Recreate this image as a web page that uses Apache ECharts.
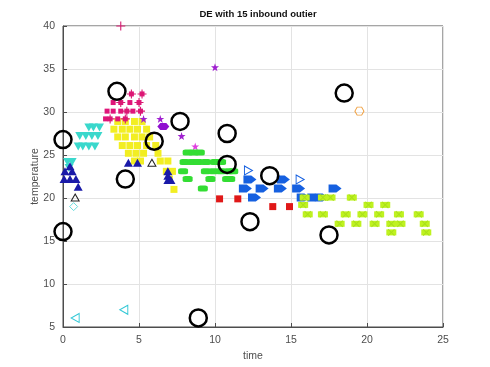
<!DOCTYPE html>
<html>
<head>
<meta charset="UTF-8">
<script src="https://cdn.jsdelivr.net/npm/echarts@6/dist/echarts.min.js"></script>
<style>html,body{margin:0;padding:0;background:#fff}#main{width:490px;height:367px}</style>
</head>
<body>
<div id="main"></div>
<script>
// tick labels
var xTicks = [0, 5, 10, 15, 20, 25];
var yTicks = [5, 10, 15, 20, 25, 30, 35, 40];

// outliers (black circles)
var outliers = [[0, 26.8], [0, 16.1], [3.55, 32.4], [4.1, 22.2], [6.0, 26.6], [7.7, 28.9], [8.9, 6.05],
  [10.8, 27.5], [10.8, 23.9], [12.3, 17.25], [13.6, 22.6], [17.5, 15.7], [18.5, 32.2]];

// magenta plus / squares
var magenta = [[4.5, 32.1], [5.2, 32.1], [3.3, 31.1], [3.8, 31.1], [4.4, 31.1], [5.0, 31.1],
  [2.9, 30.1], [3.3, 30.1], [3.8, 30.1], [4.2, 30.1], [4.6, 30.1], [5.1, 30.1],
  [2.8, 29.2], [3.1, 29.2], [3.6, 29.2], [4.1, 29.2]];
var magentaPlus = [[4.5, 32.1], [5.2, 32.1], [3.8, 31.1], [5.0, 31.1], [4.2, 30.1], [5.1, 30.1],
  [3.1, 29.2], [4.1, 29.2], [3.8, 40]];

// purple stars and blobs
var purpleStar = [[5.3, 29.2], [6.4, 29.2], [7.8, 27.2], [10.0, 35.2]];
var purpleBlob = [[6.6, 28.3]];
var pinkFlower = [[8.7, 26.0]];

// cyan down triangles
var cyanDown = [[1.7, 28.2], [2.0, 28.2], [2.4, 28.2], [1.1, 27.2], [1.5, 27.2], [1.9, 27.2], [2.3, 27.2],
  [1.0, 26.0], [1.3, 26.0], [1.7, 26.0], [2.1, 26.0], [0.3, 24.2], [0.6, 24.2], [0.4, 23.5]];
var cyanLeft = [[0.8, 6.05], [4.0, 7.0]];
var cyanDiamond = [[0.7, 19.0]];

// yellow cluster
var yellow = [[3.6, 28.9], [4.1, 28.9], [4.7, 28.9], [5.2, 28.9],
  [3.35, 28.0], [3.9, 28.0], [4.4, 28.0], [4.9, 28.0], [5.5, 28.0],
  [3.6, 27.1], [4.1, 27.1], [4.7, 27.1], [5.2, 27.1], [5.7, 27.1],
  [3.9, 26.1], [4.4, 26.1], [4.9, 26.1], [5.5, 26.1], [6.1, 26.1],
  [4.3, 25.2], [4.8, 25.2], [5.3, 25.2], [6.25, 25.2],
  [4.7, 24.3], [5.1, 24.3], [6.4, 24.3], [6.9, 24.3],
  [6.8, 23.1], [7.2, 23.1], [7.0, 22.2], [7.3, 21.0]];

// navy triangles
var navyUp = [[0.46, 23.7], [0.13, 23.1], [0.6, 23.1], [0.07, 22.2], [0.46, 22.2], [0.85, 22.2], [1.0, 21.3],
  [4.3, 24.1], [4.9, 24.1], [6.9, 23.1], [6.9, 22.6], [6.9, 22.1], [7.1, 22.1]];
var blackTri = [[0.8, 20.05], [5.85, 24.1]];

// green bars
var green = [[8.2, 25.3], [8.6, 25.3], [9.0, 25.3],
  [8.0, 24.2], [8.5, 24.2], [8.9, 24.2], [9.4, 24.2], [10.0, 24.2], [10.4, 24.2],
  [7.9, 23.1], [9.4, 23.1], [9.9, 23.1], [10.4, 23.1], [10.9, 23.1], [11.2, 23.1],
  [8.2, 22.2], [9.7, 22.2], [10.8, 22.2], [11.0, 22.2], [9.2, 21.1]];

// red squares
var red = [[10.3, 19.9], [11.5, 19.9], [13.8, 19.0], [14.9, 19.0]];

// blue arrows
var blue = [[12.3, 22.15], [14.5, 22.15], [12.0, 21.1], [13.1, 21.1], [14.3, 21.1], [15.5, 21.1], [17.9, 21.1],
  [12.6, 20.05], [15.8, 20.05], [16.5, 20.05], [17.0, 20.05]];
var blueHollow = [[12.2, 23.2], [15.6, 22.15]];

// yellow-green
var lime = [[15.9, 20.05], [17.1, 20.05], [17.6, 20.05], [19.0, 20.05],
  [15.8, 19.2], [20.1, 19.2], [21.2, 19.2],
  [16.1, 18.1], [17.1, 18.1], [18.6, 18.1], [19.7, 18.1], [20.8, 18.1], [22.1, 18.1], [23.4, 18.1],
  [18.2, 17.0], [19.3, 17.0], [20.5, 17.0], [21.6, 17.0], [22.2, 17.0], [23.8, 17.0],
  [21.6, 16.0], [23.9, 16.0]];

var orangeHex = [[19.5, 30.1]];

var PLUS = 'path://M4.4,0 H5.6 V4.4 H10 V5.6 H5.6 V10 H4.4 V5.6 H0 V4.4 H4.4 Z';
var STAR = 'path://M5,0 L6.2,3.6 L10,3.6 L7,5.9 L8.1,9.5 L5,7.3 L1.9,9.5 L3,5.9 L0,3.6 L3.8,3.6 Z';
var DOWN = 'path://M0,0 L10,0 L5,9 Z';
var LEFT = 'path://M9,0 L0,5 L9,10 Z';
var RIGHT = 'path://M0,0 L9,5 L0,10 Z';
var ARROW = 'path://M0,0 L6,0 L10,5 L6,10 L0,10 Z';
var HEX = 'path://M2.5,0 L7.5,0 L10,4.3 L7.5,8.6 L2.5,8.6 L0,4.3 Z';
var XMARK = 'path://M0,1 L1,0 L5,4 L9,0 L10,1 L6,5 L10,9 L9,10 L5,6 L1,10 L0,9 L4,5 Z';

function sc(data, symbol, size, color, extra) {
  var s = {
    type: 'scatter', data: data, symbol: symbol, symbolSize: size,
    itemStyle: { color: color, opacity: 1 }, silent: true, z: 2
  };
  for (var k in extra) s[k] = extra[k];
  return s;
}
function hollow(data, symbol, size, color, bw) {
  return sc(data, symbol, size, 'transparent', {
    itemStyle: { color: 'transparent', borderColor: color, borderWidth: bw, opacity: 1 }
  });
}

var chart = echarts.init(document.getElementById('main'));
var axisText = { color: '#4d4d4d', fontSize: 10.5, fontFamily: 'Liberation Sans, Arial' };
chart.setOption({
  animation: false,
  backgroundColor: '#fff',
  title: {
    text: 'DE with 15 inbound outier', left: 253, top: 4, textAlign: 'center',
    textStyle: { fontSize: 9.5, fontWeight: 'bold', color: '#111', fontFamily: 'Liberation Sans, Arial' }
  },
  grid: { left: 63, right: 47, top: 26, bottom: 40, show: true, borderColor: '#4d4d4d', borderWidth: 1 },
  xAxis: {
    type: 'value', min: 0, max: 25, interval: 5,
    name: 'time', nameLocation: 'middle', nameGap: 24, nameTextStyle: axisText, nameMoveOverlap: false,
    axisLine: { show: true, onZero: false, lineStyle: { color: '#4d4d4d' } },
    axisTick: { show: true, inside: true, length: 4, lineStyle: { color: '#4d4d4d' } },
    axisLabel: axisText,
    splitLine: { show: true, lineStyle: { color: '#e3e3e3' } }
  },
  yAxis: {
    type: 'value', min: 5, max: 40, interval: 5,
    name: 'temperature', nameLocation: 'middle', nameGap: 22, nameTextStyle: axisText, nameMoveOverlap: false,
    axisLine: { show: true, onZero: false, lineStyle: { color: '#4d4d4d' } },
    axisTick: { show: true, inside: true, length: 4, lineStyle: { color: '#4d4d4d' } },
    axisLabel: axisText,
    splitLine: { show: true, lineStyle: { color: '#e3e3e3' } }
  },
  series: [
    sc(yellow, 'rect', 7, '#f2ee22'),
    sc(cyanDown, DOWN, [9, 8], '#3ad8cc'),
    hollow(cyanLeft, LEFT, [8, 9], '#33c8d6', 1),
    hollow(cyanDiamond, 'diamond', 8, '#66dddd', 1),
    sc(magenta, 'rect', 5, '#e0157a'),
    sc(magentaPlus, PLUS, 9, '#d81a70'),
    sc(purpleStar, STAR, 8, '#a020d0'),
    sc(purpleBlob, HEX, [12, 7], '#9010d0'),
    sc(pinkFlower, STAR, 8, '#e040e0'),
    sc(navyUp, 'triangle', [9, 8], '#1a1aa8'),
    hollow(blackTri, 'triangle', [8, 7], '#222', 1),
    sc(green, 'roundRect', [10, 6], '#33dd33'),
    sc(red, 'rect', 7, '#e01818'),
    sc(blue, ARROW, [13, 8], '#1660e0'),
    hollow(blueHollow, RIGHT, [8, 9], '#1660e0', 1),
    sc(lime, 'rect', [10, 6], '#bff21f'),
    sc(lime, XMARK, 7, '#a8e01a'),
    hollow(orangeHex, HEX, [9, 8], '#f0a040', 1),
    sc(outliers, 'circle', 17, 'transparent', {
      z: 5, itemStyle: { color: 'transparent', borderColor: '#000', borderWidth: 2.5, opacity: 1 }
    })
  ]
});
</script>
</body>
</html>
